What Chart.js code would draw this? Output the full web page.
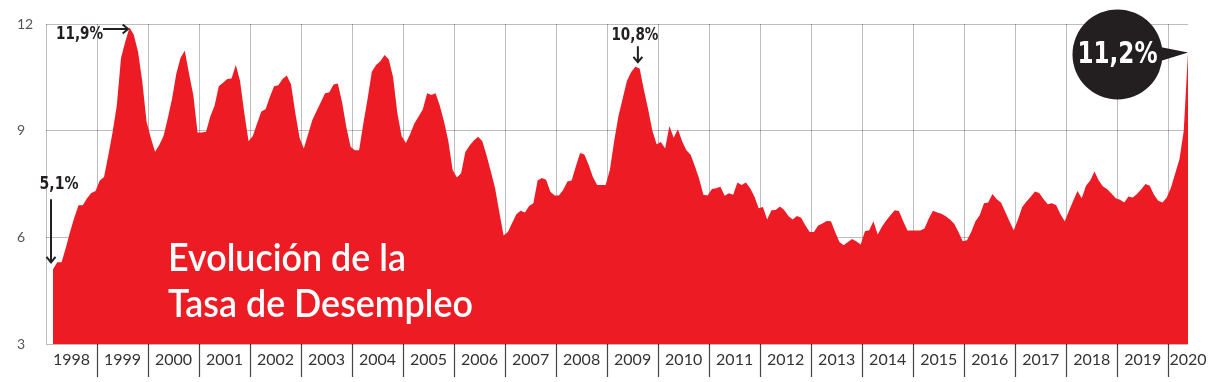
<!DOCTYPE html>
<html>
<head>
<meta charset="utf-8">
<script src="https://cdn.jsdelivr.net/npm/chart.js@4.4.1/dist/chart.umd.min.js"></script>
<style>
html,body{margin:0;padding:0;background:#ffffff;}
#wrap{width:1221px;height:382px;position:relative;}
canvas{display:block;}
</style>
</head>
<body>
<div id="wrap"><canvas id="c" width="1221" height="382"></canvas></div>
<script>
// ---------- DATA ----------
const startYear = 1998;
const startMonth = 2; // first rolling-quarter point: Feb 1998
const rates = [
  5.1, 5.3, 5.3, 5.7, 6.15, 6.55, 6.9, 6.9, 7.1, 7.25, 7.3,
  7.6, 7.7, 8.3, 8.95, 9.7, 11.05, 11.5, 11.9, 11.7, 11.22, 10.38, 9.26,
  8.8, 8.41, 8.6, 8.85, 9.35, 9.9, 10.6, 11.05, 11.25, 10.6, 10.0, 8.95,
  8.95, 8.97, 9.4, 9.7, 10.25, 10.35, 10.45, 10.47, 10.85, 10.4, 9.5, 8.7,
  8.85, 9.2, 9.54, 9.6, 9.95, 10.25, 10.28, 10.45, 10.55, 10.3, 9.5, 8.8,
  8.5, 8.9, 9.3, 9.55, 9.8, 10.05, 10.08, 10.3, 10.33, 9.8, 9.1, 8.55,
  8.45, 8.45, 9.2, 9.9, 10.66, 10.85, 10.95, 11.13, 11.0, 10.5, 9.5, 8.85,
  8.65, 8.9, 9.2, 9.4, 9.6, 10.05, 10.0, 10.05, 9.7, 9.25, 8.7, 7.9,
  7.68, 7.8, 8.4, 8.58, 8.72, 8.83, 8.7, 8.3, 7.85, 7.38, 6.7, 6.05,
  6.15, 6.4, 6.65, 6.75, 6.7, 6.88, 6.96, 7.6, 7.67, 7.62, 7.28, 7.18,
  7.18, 7.33, 7.57, 7.6, 8.0, 8.37, 8.33, 8.04, 7.7, 7.47, 7.47, 7.47,
  7.9, 8.7, 9.4, 9.9, 10.4, 10.65, 10.8, 10.75, 10.15, 9.6, 9.0, 8.62,
  8.68, 8.5, 9.13, 8.8, 9.04, 8.7, 8.45, 8.32, 8.0, 7.65, 7.2, 7.18,
  7.36, 7.38, 7.42, 7.17, 7.24, 7.2, 7.54, 7.47, 7.54, 7.38, 7.15, 6.82,
  6.85, 6.5, 6.76, 6.77, 6.87, 6.77, 6.6, 6.5, 6.6, 6.55, 6.33, 6.15,
  6.15, 6.33, 6.39, 6.46, 6.45, 6.15, 5.87, 5.78, 5.87, 5.95, 5.88, 5.8,
  6.17, 6.2, 6.45, 6.08, 6.3, 6.47, 6.62, 6.76, 6.74, 6.45, 6.19, 6.19,
  6.19, 6.19, 6.25, 6.52, 6.75, 6.7, 6.66, 6.59, 6.5, 6.38, 6.15, 5.89,
  5.92, 6.15, 6.45, 6.62, 6.96, 6.98, 7.22, 7.07, 6.98, 6.72, 6.45, 6.2,
  6.5, 6.85, 7.01, 7.14, 7.29, 7.25, 7.08, 6.93, 6.96, 6.9, 6.65, 6.45,
  6.75, 7.03, 7.3, 7.1, 7.45, 7.6, 7.85, 7.6, 7.43, 7.35, 7.23, 7.1,
  7.06, 6.98, 7.15, 7.12, 7.22, 7.35, 7.5, 7.45, 7.2, 7.03, 6.98, 7.12,
  7.4, 7.8, 8.2, 9.0, 11.2
];
const yearLabels = ['1998','1999','2000','2001','2002','2003','2004','2005','2006','2007','2008',
  '2009','2010','2011','2012','2013','2014','2015','2016','2017','2018','2019','2020'];
const yTicks = [3, 6, 9, 12];
const titleLines = ['Evolución de la', 'Tasa de Desempleo'];
const calloutIndex = { first: 0, peak1999: 18, peak2009: 137, last: 267 };
const calloutText = { first: '5,1%', peak1999: '11,9%', peak2009: '10,8%', last: '11,2%' };

// ---------- BUILD ----------
const MONTH_SHIFT = 0.65;
const points = rates.map((v, i) => ({ x: startYear + (startMonth - 1 + i + MONTH_SHIFT) / 12, y: v }));
const xMin = startYear;
const xMax = points[points.length - 1].x;

const RED = '#ED1C24';
const GRID = 'rgba(0,0,0,0.26)';
const INK = '#231F20';

function arrow(ctx, x1, y1, x2, y2, head) {
  const a = Math.atan2(y2 - y1, x2 - x1);
  ctx.beginPath();
  ctx.moveTo(x1, y1); ctx.lineTo(x2, y2);
  ctx.moveTo(x2 - head * Math.cos(a - 0.7), y2 - head * Math.sin(a - 0.7));
  ctx.lineTo(x2, y2);
  ctx.lineTo(x2 - head * Math.cos(a + 0.7), y2 - head * Math.sin(a + 0.7));
  ctx.stroke();
}

const overlay = {
  id: 'overlay',
  afterDraw(chart) {
    const ctx = chart.ctx, xs = chart.scales.x, ys = chart.scales.y;
    const pt = i => ({ x: xs.getPixelForValue(points[i].x), y: ys.getPixelForValue(points[i].y) });
    ctx.save();
    // title
    ctx.fillStyle = '#ffffff';
    ctx.font = '600 38px Lato';
    ctx.textBaseline = 'alphabetic';
    ctx.textAlign = 'left';
    ctx.fillText(titleLines[0], 168, 271, 238);
    ctx.fillText(titleLines[1], 168, 317, 305);

    ctx.strokeStyle = INK; ctx.fillStyle = INK; ctx.lineWidth = 2; ctx.lineCap = 'butt';
    ctx.font = 'bold 18px "DejaVu Sans"';
    ctx.textBaseline = 'middle';

    // 11,9%
    let p = pt(calloutIndex.peak1999);
    let tx = p.x - 1.5, ty = p.y + 1.5;
    arrow(ctx, tx - 25, ty, tx, ty, 7);
    ctx.textAlign = 'right';
    ctx.fillText(calloutText.peak1999, tx - 25, ty + 5, 47);

    // 5,1%
    p = pt(calloutIndex.first);
    tx = p.x - 2; ty = p.y - 7;
    arrow(ctx, tx, ty - 63, tx, ty, 7);
    ctx.textAlign = 'center';
    ctx.fillText(calloutText.first, tx + 8, ty - 78, 39);

    // 10,8%
    p = pt(calloutIndex.peak2009);
    tx = p.x + 2.5; ty = p.y - 4.5;
    arrow(ctx, tx, ty - 16, tx, ty, 7);
    ctx.textAlign = 'center';
    ctx.fillText(calloutText.peak2009, tx - 3, ty - 27, 47);

    // 11,2% bubble
    p = pt(calloutIndex.last);
    const cx = p.x - 70.5, cy = p.y + 2, r = 45;
    ctx.beginPath();
    ctx.arc(cx, cy, r, 0, Math.PI * 2);
    ctx.fill();
    ctx.beginPath();
    ctx.moveTo(cx + 35, cy - 9);
    ctx.lineTo(p.x, p.y);
    ctx.lineTo(cx + 35, cy + 9);
    ctx.closePath();
    ctx.fill();
    ctx.fillStyle = '#ffffff';
    ctx.font = 'bold 30px "DejaVu Sans"';
    ctx.textAlign = 'center';
    ctx.fillText(calloutText.last, cx, cy + 1, 80);
    ctx.restore();
  }
};

Chart.defaults.font.family = 'Lato';

new Chart(document.getElementById('c'), {
  type: 'line',
  data: {
    datasets: [{
      data: points,
      fill: 'start',
      backgroundColor: RED,
      borderColor: RED,
      borderWidth: 0,
      pointRadius: 0,
      tension: 0
    }]
  },
  options: {
    responsive: false,
    animation: false,
    layout: { padding: { top: 24, left: 17, right: 33, bottom: 0 } },
    plugins: { legend: { display: false }, tooltip: { enabled: false }, title: { display: false } },
    scales: {
      x: {
        type: 'linear',
        min: xMin,
        max: xMax,
        z: 1,
        border: { display: false },
        afterBuildTicks(scale) {
          const t = [];
          yearLabels.forEach((lab, k) => {
            const y0 = startYear + k;
            t.push({ value: y0, lbl: '', grid: true });
            t.push({ value: Math.min(y0 + 0.5, xMax), lbl: lab, grid: false });
          });
          scale.ticks = t;
        },
        afterFit(scale) { scale.height = 38; },
        grid: {
          drawOnChartArea: true,
          drawTicks: true,
          tickLength: 33,
          lineWidth: 1,
          color: ctx => (ctx.tick && ctx.tick.grid) ? GRID : 'rgba(0,0,0,0)',
          tickColor: ctx => (ctx.tick && ctx.tick.grid && ctx.tick.value !== startYear) ? '#444444' : 'rgba(0,0,0,0)',
          tickWidth: 1.2
        },
        ticks: {
          autoSkip: false,
          maxRotation: 0,
          minRotation: 0,
          padding: -27,
          color: '#333333',
          font: { size: 16, family: 'Lato' },
          callback: (v, i, ticks) => ticks[i].lbl
        }
      },
      y: {
        min: 3,
        max: 12,
        z: 1,
        border: { display: false },
        afterBuildTicks(scale) { scale.ticks = yTicks.map(v => ({ value: v })); },
        afterFit(scale) { scale.width = 29; },
        grid: { color: GRID, drawTicks: false, lineWidth: 1 },
        ticks: {
          crossAlign: 'far',
          padding: 0,
          color: '#555555',
          font: { size: 14, family: 'Lato' },
          callback: v => String(v)
        }
      }
    }
  },
  plugins: [overlay]
});
</script>
</body>
</html>
